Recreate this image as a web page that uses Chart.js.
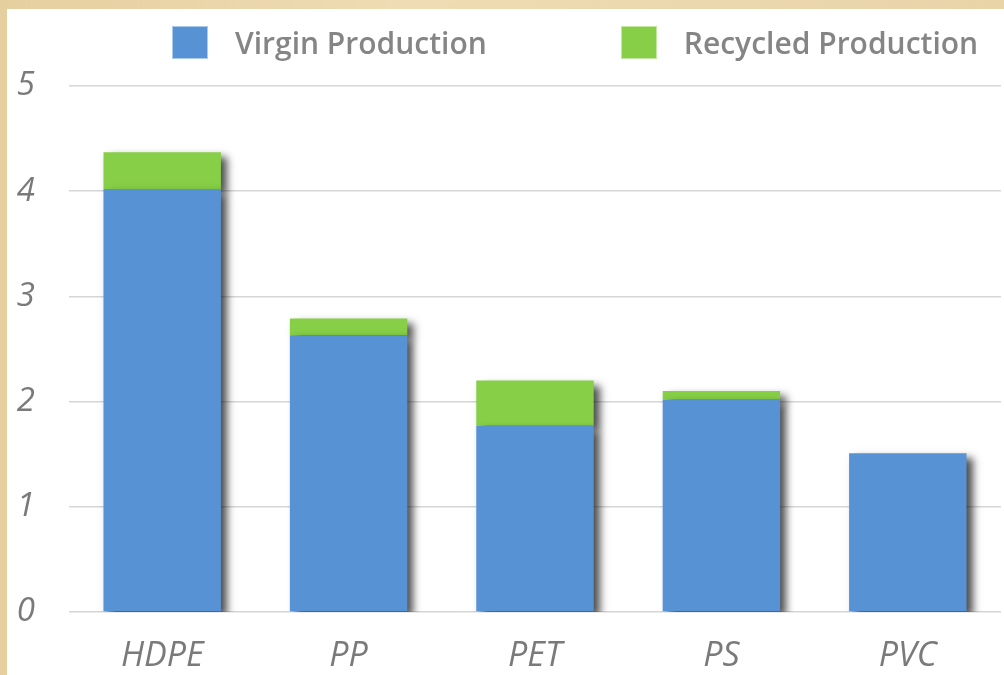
<!DOCTYPE html>
<html>
<head>
<meta charset="utf-8">
<script src="https://cdn.jsdelivr.net/npm/chart.js@4.4.1/dist/chart.umd.min.js"></script>
<style>
  html, body { margin: 0; padding: 0; }
  body {
    width: 1004px; height: 675px; overflow: hidden; position: relative;
    background: linear-gradient(90deg, #e6cf9f 0%, #efdcb4 40%, #e9d4a8 100%);
  }
  #panel { position: absolute; left: 7px; top: 9px; right: 0; bottom: 0; background: #fff; }
  #wrap { position: absolute; left: 0; top: 0; width: 1004px; height: 675px; }
  #legend {
    position: absolute; left: 172px; top: 26px; display: flex; gap: 134px;
    font-family: "Open Sans", sans-serif; font-size: 30px; color: #858585; font-weight: 600;
  }
  .item { display: flex; align-items: center; height: 33px; }
  .box { width: 36px; height: 33px; margin-right: 27px; box-sizing: border-box; }
</style>
</head>
<body>
<div id="panel"></div>
<div id="wrap"><canvas id="plasticChart"></canvas></div>
<div id="legend"></div>
<script>
// chart data
const categories = ['HDPE', 'PP', 'PET', 'PS', 'PVC'];
const virginProduction = [4.02, 2.63, 1.77, 2.02, 1.51];
const recycledProduction = [0.35, 0.16, 0.43, 0.08, 0];
const seriesNames = ['Virgin Production', 'Recycled Production'];
const seriesColors = ['#5792d5', '#86cf46'];
const yTicks = [0, 1, 2, 3, 4, 5];

// html legend
const legendEl = document.getElementById('legend');
seriesNames.forEach((name, i) => {
    const item = document.createElement('div');
    item.className = 'item';
    const box = document.createElement('span');
    box.className = 'box';
    box.style.background = seriesColors[i];
    box.style.border = '1px solid rgba(255,255,255,0.5)';
    const label = document.createElement('span');
    label.textContent = name;
    item.appendChild(box);
    item.appendChild(label);
    legendEl.appendChild(item);
});

// drop shadow behind bars
const barShadow = {
    id: 'barShadow',
    beforeDatasetsDraw(chart) {
        const ctx = chart.ctx;
        ctx.save();
        ctx.shadowColor = 'rgba(0, 0, 0, 0.7)';
        ctx.shadowBlur = 8;
        ctx.shadowOffsetX = 6;
        ctx.shadowOffsetY = 5;
    },
    afterDatasetsDraw(chart) {
        chart.ctx.restore();
    }
};

const ctx = document.getElementById('plasticChart').getContext('2d');
new Chart(ctx, {
    type: 'bar',
    data: {
        labels: categories,
        datasets: [
            { label: seriesNames[0], data: virginProduction, backgroundColor: seriesColors[0] },
            { label: seriesNames[1], data: recycledProduction, backgroundColor: seriesColors[1] }
        ]
    },
    options: {
        responsive: true,
        maintainAspectRatio: false,
        animation: false,
        devicePixelRatio: 1,
        layout: { padding: { top: 86, right: 3, left: 0, bottom: 0 } },
        datasets: { bar: { categoryPercentage: 1, barPercentage: 0.63, borderWidth: 0 } },
        plugins: {
            legend: { display: false },
            tooltip: { enabled: false }
        },
        scales: {
            x: {
                stacked: true,
                grid: { display: false, drawTicks: false },
                border: { display: false },
                ticks: {
                    padding: 24,
                    color: '#7a7a7a',
                    font: { family: 'Open Sans', size: 34, style: 'italic' }
                },
                afterFit(scale) { scale.height = 63; }
            },
            y: {
                stacked: true,
                min: yTicks[0],
                max: yTicks[yTicks.length - 1],
                grid: { color: '#d6d6d6', lineWidth: 1.5, drawTicks: false },
                border: { display: false },
                ticks: {
                    stepSize: 1,
                    padding: 34,
                    color: '#7a7a7a',
                    font: { family: 'Open Sans', size: 33, style: 'italic' }
                },
                afterFit(scale) { scale.width = 69; }
            }
        }
    },
    plugins: [barShadow]
});
</script>
</body>
</html>
